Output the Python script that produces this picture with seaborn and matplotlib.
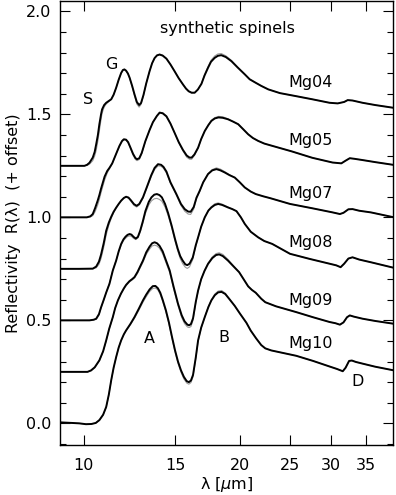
import numpy as np
import pandas as pd
import matplotlib
matplotlib.use("Agg")
import matplotlib.pyplot as plt
import seaborn as sns

# wavelength [micron], measured reflectivity (black) and model fit (grey), offsets already added
wl_mg04 = [8.98, 10.03, 10.15, 10.26, 10.41, 10.5, 10.57, 10.65, 10.72, 10.8, 10.85, 10.95,
           11.05, 11.18, 11.30, 11.42, 11.55, 11.68, 11.81, 11.9, 11.98, 12.07, 12.17, 12.26,
           12.4, 12.53, 12.66, 12.79, 12.9, 13.04, 13.2, 13.40, 13.55, 13.70, 13.85, 14.01,
           14.2, 14.44, 14.7, 14.98, 15.25, 15.54, 15.75, 15.94, 16.15, 16.37, 16.6, 16.87,
           17.1, 17.37, 17.6, 17.89, 18.15, 18.42, 18.8, 19.27, 19.8, 20.45, 20.9, 21.47,
           22.0, 22.7, 23.9, 25.7, 27.6, 29.8, 30.9, 31.8, 32.3, 33.0, 34.5, 36.5, 39.5]
r_mg04 = [1.250, 1.250, 1.255, 1.265, 1.290, 1.318, 1.355, 1.400, 1.452, 1.500, 1.524, 1.545,
          1.556, 1.565, 1.573, 1.595, 1.629, 1.668, 1.701, 1.715, 1.718, 1.712, 1.698, 1.678,
          1.638, 1.597, 1.560, 1.545, 1.555, 1.594, 1.650, 1.710, 1.748, 1.773, 1.786, 1.790,
          1.785, 1.770, 1.742, 1.708, 1.675, 1.645, 1.625, 1.612, 1.605, 1.605, 1.620, 1.648,
          1.688, 1.726, 1.755, 1.774, 1.784, 1.787, 1.778, 1.758, 1.728, 1.694, 1.670, 1.653,
          1.638, 1.621, 1.603, 1.588, 1.573, 1.556, 1.553, 1.560, 1.569, 1.567, 1.556, 1.545,
          1.532]
fit_mg04 = [1.250, 1.250, 1.252, 1.258, 1.275, 1.298, 1.325, 1.372, 1.420, 1.475, 1.505, 1.535,
            1.550, 1.562, 1.573, 1.595, 1.629, 1.668, 1.700, 1.713, 1.716, 1.710, 1.696, 1.676,
            1.634, 1.590, 1.550, 1.535, 1.548, 1.590, 1.650, 1.710, 1.748, 1.774, 1.788, 1.792,
            1.787, 1.771, 1.742, 1.708, 1.675, 1.645, 1.623, 1.610, 1.603, 1.604, 1.620, 1.650,
            1.692, 1.732, 1.762, 1.783, 1.793, 1.795, 1.784, 1.762, 1.730, 1.694, 1.670, 1.653,
            1.638, 1.621, 1.603, 1.588, 1.573, 1.556, 1.553, 1.560, 1.569, 1.567, 1.556, 1.545,
            1.532]

wl_mg05 = [8.98, 9.8, 10.14, 10.3, 10.41, 10.52, 10.64, 10.72, 10.80, 10.97, 11.1, 11.21,
           11.35, 11.47, 11.6, 11.72, 11.85, 11.95, 12.07, 12.18, 12.30, 12.45, 12.58, 12.67,
           12.8, 12.94, 13.15, 13.40, 13.6, 13.84, 14.01, 14.2, 14.44, 14.7, 14.98, 15.25,
           15.54, 15.8, 16.0, 16.15, 16.35, 16.62, 16.85, 17.12, 17.4, 17.63, 17.9, 18.2,
           18.55, 18.98, 19.4, 19.86, 20.3, 20.76, 21.2, 21.7, 22.3, 23.1, 25.2, 27.6, 30.2,
           31.4, 32.0, 32.6, 33.3, 34.5, 36.5, 39.5]
r_mg05 = [1.000, 1.000, 1.000, 1.005, 1.016, 1.045, 1.081, 1.108, 1.139, 1.197, 1.225, 1.240,
          1.262, 1.290, 1.320, 1.347, 1.370, 1.379, 1.377, 1.365, 1.340, 1.308, 1.288, 1.282,
          1.287, 1.313, 1.370, 1.424, 1.462, 1.492, 1.508, 1.505, 1.490, 1.455, 1.409, 1.365,
          1.327, 1.300, 1.290, 1.290, 1.305, 1.338, 1.380, 1.419, 1.448, 1.468, 1.480, 1.485,
          1.483, 1.476, 1.465, 1.452, 1.428, 1.403, 1.385, 1.371, 1.358, 1.347, 1.320, 1.289,
          1.266, 1.262, 1.275, 1.287, 1.284, 1.278, 1.268, 1.255]
fit_mg05 = [1.000, 1.000, 1.000, 1.002, 1.008, 1.028, 1.060, 1.088, 1.120, 1.180, 1.215, 1.235,
            1.260, 1.290, 1.320, 1.345, 1.367, 1.376, 1.374, 1.362, 1.336, 1.302, 1.281, 1.275,
            1.281, 1.308, 1.368, 1.424, 1.463, 1.494, 1.510, 1.508, 1.493, 1.456, 1.409, 1.362,
            1.322, 1.292, 1.282, 1.282, 1.300, 1.335, 1.380, 1.420, 1.450, 1.471, 1.484, 1.490,
            1.488, 1.478, 1.465, 1.452, 1.428, 1.403, 1.385, 1.371, 1.358, 1.347, 1.320, 1.289,
            1.266, 1.262, 1.275, 1.287, 1.284, 1.278, 1.268, 1.255]

wl_mg07 = [8.98, 9.8, 10.41, 10.57, 10.7, 10.80, 10.93, 11.05, 11.18, 11.30, 11.42, 11.55,
           11.68, 11.81, 11.95, 12.07, 12.2, 12.33, 12.5, 12.65, 12.8, 13.01, 13.25, 13.5,
           13.7, 13.91, 14.1, 14.25, 14.44, 14.7, 15.09, 15.4, 15.66, 15.9, 16.08, 16.3, 16.5,
           16.74, 17.0, 17.37, 17.7, 18.03, 18.35, 18.7, 19.1, 19.56, 20.0, 20.45, 21.0,
           21.47, 22.2, 22.9, 25.0, 27.6, 30.2, 31.2, 31.7, 32.4, 33.0, 34.0, 35.8, 39.5]
r_mg07 = [0.750, 0.750, 0.751, 0.761, 0.785, 0.819, 0.875, 0.935, 0.975, 1.003, 1.027, 1.047,
          1.065, 1.081, 1.094, 1.100, 1.096, 1.083, 1.064, 1.056, 1.065, 1.097, 1.150, 1.205,
          1.240, 1.258, 1.255, 1.245, 1.222, 1.170, 1.113, 1.065, 1.040, 1.028, 1.027, 1.050,
          1.095, 1.129, 1.170, 1.210, 1.228, 1.234, 1.228, 1.218, 1.205, 1.193, 1.170, 1.145,
          1.125, 1.113, 1.102, 1.093, 1.065, 1.044, 1.024, 1.016, 1.022, 1.039, 1.040, 1.032,
          1.024, 1.001]
fit_mg07 = [0.750, 0.750, 0.750, 0.755, 0.772, 0.800, 0.855, 0.915, 0.962, 0.995, 1.022, 1.045,
            1.064, 1.081, 1.093, 1.098, 1.093, 1.078, 1.058, 1.050, 1.060, 1.092, 1.145, 1.198,
            1.232, 1.250, 1.248, 1.238, 1.215, 1.165, 1.108, 1.058, 1.030, 1.016, 1.014, 1.040,
            1.090, 1.125, 1.170, 1.212, 1.232, 1.240, 1.234, 1.222, 1.207, 1.193, 1.170, 1.145,
            1.125, 1.113, 1.102, 1.093, 1.065, 1.044, 1.024, 1.016, 1.022, 1.039, 1.040, 1.032,
            1.024, 1.001]

wl_mg08 = [8.98, 9.8, 10.26, 10.45, 10.57, 10.7, 10.8, 10.93, 11.05, 11.21, 11.38, 11.55,
           11.68, 11.81, 11.93, 12.04, 12.15, 12.26, 12.36, 12.48, 12.6, 12.72, 12.85, 13.0,
           13.15, 13.35, 13.51, 13.68, 13.84, 14.0, 14.15, 14.35, 14.55, 14.78, 15.0, 15.18,
           15.35, 15.52, 15.7, 15.84, 16.0, 16.23, 16.45, 16.62, 16.85, 17.12, 17.4, 17.63,
           17.9, 18.17, 18.5, 18.98, 19.35, 19.71, 20.1, 20.45, 21.0, 21.7, 22.3, 23.1, 25.0,
           27.3, 29.9, 30.7, 31.3, 31.8, 32.4, 33.0, 34.0, 35.8, 39.5]
r_mg08 = [0.500, 0.500, 0.500, 0.503, 0.508, 0.530, 0.563, 0.600, 0.635, 0.677, 0.742, 0.790,
          0.835, 0.871, 0.893, 0.906, 0.915, 0.919, 0.916, 0.905, 0.897, 0.905, 0.935, 0.980,
          1.030, 1.075, 1.097, 1.110, 1.113, 1.108, 1.097, 1.065, 1.020, 0.959, 0.895, 0.848,
          0.812, 0.790, 0.772, 0.768, 0.775, 0.805, 0.865, 0.903, 0.955, 1.000, 1.033, 1.048,
          1.060, 1.065, 1.060, 1.048, 1.040, 1.030, 1.000, 0.968, 0.930, 0.903, 0.885, 0.871,
          0.823, 0.798, 0.774, 0.767, 0.758, 0.775, 0.800, 0.806, 0.795, 0.782, 0.756]
fit_mg08 = [0.500, 0.500, 0.500, 0.502, 0.505, 0.525, 0.560, 0.598, 0.635, 0.680, 0.745, 0.792,
            0.832, 0.865, 0.887, 0.898, 0.907, 0.910, 0.908, 0.898, 0.892, 0.900, 0.928, 0.970,
            1.018, 1.060, 1.080, 1.090, 1.092, 1.087, 1.078, 1.050, 1.008, 0.950, 0.885, 0.838,
            0.800, 0.775, 0.758, 0.752, 0.760, 0.795, 0.860, 0.900, 0.955, 1.000, 1.035, 1.052,
            1.066, 1.070, 1.064, 1.050, 1.040, 1.030, 1.000, 0.968, 0.930, 0.903, 0.885, 0.871,
            0.823, 0.798, 0.774, 0.767, 0.758, 0.775, 0.800, 0.806, 0.795, 0.782, 0.756]

wl_mg09 = [8.98, 9.8, 10.17, 10.33, 10.5, 10.72, 10.9, 11.05, 11.2, 11.38, 11.5, 11.64, 11.8,
           11.95, 12.07, 12.25, 12.4, 12.53, 12.7, 12.85, 13.01, 13.2, 13.40, 13.55, 13.70,
           13.85, 14.0, 14.2, 14.4, 14.65, 14.9, 15.2, 15.45, 15.65, 15.85, 15.97, 16.1, 16.25,
           16.45, 16.62, 16.85, 17.1, 17.37, 17.7, 18.0, 18.25, 18.55, 18.98, 19.45, 19.94,
           20.4, 20.76, 21.1, 21.47, 22.0, 22.4, 23.5, 25.7, 27.7, 29.8, 30.6, 31.2, 31.7,
           32.2, 32.6, 33.2, 34.5, 36.5, 39.5]
r_mg09 = [0.250, 0.250, 0.250, 0.257, 0.272, 0.306, 0.350, 0.403, 0.460, 0.516, 0.560, 0.597,
          0.630, 0.655, 0.672, 0.690, 0.700, 0.710, 0.735, 0.762, 0.790, 0.830, 0.858, 0.874,
          0.879, 0.874, 0.862, 0.835, 0.793, 0.742, 0.665, 0.581, 0.525, 0.495, 0.479, 0.476,
          0.482, 0.510, 0.590, 0.645, 0.700, 0.740, 0.774, 0.802, 0.817, 0.820, 0.812, 0.790,
          0.762, 0.734, 0.695, 0.665, 0.648, 0.634, 0.605, 0.588, 0.568, 0.540, 0.515, 0.492,
          0.486, 0.479, 0.490, 0.515, 0.524, 0.518, 0.508, 0.497, 0.484]
fit_mg09 = [0.250, 0.250, 0.250, 0.255, 0.270, 0.303, 0.348, 0.400, 0.458, 0.515, 0.560, 0.597,
            0.628, 0.652, 0.668, 0.686, 0.696, 0.705, 0.728, 0.755, 0.782, 0.820, 0.846, 0.861,
            0.865, 0.861, 0.850, 0.823, 0.782, 0.732, 0.655, 0.572, 0.514, 0.484, 0.468, 0.465,
            0.470, 0.500, 0.585, 0.640, 0.700, 0.742, 0.778, 0.808, 0.824, 0.828, 0.820, 0.796,
            0.765, 0.734, 0.695, 0.665, 0.648, 0.634, 0.605, 0.588, 0.568, 0.540, 0.515, 0.492,
            0.486, 0.479, 0.490, 0.515, 0.524, 0.518, 0.508, 0.497, 0.484]

wl_mg10 = [8.98, 9.5, 9.81, 10.1, 10.35, 10.55, 10.72, 10.9, 11.05, 11.18, 11.30, 11.42,
           11.55, 11.68, 11.81, 11.95, 12.07, 12.3, 12.53, 12.77, 13.01, 13.2, 13.40, 13.59,
           13.75, 13.9, 14.05, 14.2, 14.4, 14.6, 14.8, 15.0, 15.2, 15.4, 15.6, 15.8, 15.95,
           16.1, 16.25, 16.45, 16.62, 16.85, 17.12, 17.4, 17.63, 17.9, 18.17, 18.45, 18.75,
           19.1, 19.56, 20.0, 20.6, 21.0, 21.5, 22.0, 22.4, 23.0, 23.9, 25.7, 27.7, 29.8,
           30.8, 31.6, 32.0, 32.5, 32.9, 33.5, 34.5, 36.5, 39.5]
r_mg10 = [0.005, 0.002, 0.000, -0.004, -0.003, 0.002, 0.016, 0.042, 0.080, 0.140, 0.210, 0.270,
          0.322, 0.368, 0.403, 0.432, 0.451, 0.482, 0.516, 0.556, 0.597, 0.625, 0.650, 0.666,
          0.667, 0.656, 0.634, 0.600, 0.550, 0.490, 0.420, 0.355, 0.300, 0.258, 0.226, 0.205,
          0.200, 0.208, 0.235, 0.320, 0.403, 0.465, 0.516, 0.565, 0.597, 0.622, 0.636, 0.638,
          0.628, 0.603, 0.570, 0.534, 0.488, 0.450, 0.413, 0.380, 0.364, 0.354, 0.345, 0.328,
          0.303, 0.276, 0.264, 0.253, 0.270, 0.303, 0.305, 0.298, 0.290, 0.275, 0.258]
fit_mg10 = [0.005, 0.002, 0.000, -0.004, -0.003, 0.002, 0.014, 0.040, 0.078, 0.138, 0.208, 0.268,
            0.322, 0.368, 0.403, 0.431, 0.450, 0.478, 0.510, 0.548, 0.588, 0.615, 0.640, 0.655,
            0.657, 0.648, 0.625, 0.592, 0.542, 0.482, 0.412, 0.347, 0.292, 0.249, 0.216, 0.196,
            0.190, 0.198, 0.226, 0.315, 0.398, 0.463, 0.516, 0.568, 0.600, 0.628, 0.642, 0.645,
            0.632, 0.605, 0.570, 0.534, 0.488, 0.450, 0.413, 0.380, 0.364, 0.354, 0.345, 0.328,
            0.303, 0.276, 0.264, 0.253, 0.270, 0.303, 0.305, 0.298, 0.290, 0.275, 0.258]

names = ["Mg04", "Mg05", "Mg07", "Mg08", "Mg09", "Mg10"]
label_y = [1.653, 1.371, 1.116, 0.879, 0.597, 0.387]

spectra = [(wl_mg04, r_mg04, fit_mg04), (wl_mg05, r_mg05, fit_mg05),
           (wl_mg07, r_mg07, fit_mg07), (wl_mg08, r_mg08, fit_mg08),
           (wl_mg09, r_mg09, fit_mg09), (wl_mg10, r_mg10, fit_mg10)]

sns.set_theme(style="ticks")
plt.rcParams["font.family"] = ["DejaVu Sans"]
plt.rcParams["axes.edgecolor"] = "black"
plt.rcParams["axes.labelcolor"] = "black"
plt.rcParams["text.color"] = "black"
plt.rcParams["xtick.color"] = "black"
plt.rcParams["ytick.color"] = "black"

fig = plt.figure(figsize=(3.96, 4.95), dpi=100)
ax = fig.add_axes([60 / 396, 1 - 445 / 495, 333 / 396, 444 / 495])

for wl, r, fit in spectra:
    sns.lineplot(x=wl, y=fit, ax=ax, color="#999999", lw=0.8, estimator=None, sort=False)
    sns.lineplot(x=wl, y=r, ax=ax, color="black", lw=1.4, estimator=None, sort=False)

fs = 11.5
for name, yy in zip(names, label_y):
    ax.text(27.4, yy, name, ha="center", va="center", fontsize=fs)

ax.text(18.96, 1.918, "synthetic spinels", ha="center", va="center", fontsize=fs)
ax.text(10.18, 1.573, "S", ha="center", va="center", fontsize=fs)
ax.text(11.30, 1.742, "G", ha="center", va="center", fontsize=fs)
ax.text(13.40, 0.414, "A", ha="center", va="center", fontsize=fs)
ax.text(18.66, 0.419, "B", ha="center", va="center", fontsize=fs)
ax.text(33.8, 0.201, "D", ha="center", va="center", fontsize=fs)

ax.set_xscale("log")
ax.set_xlim(9.0, 39.5)
ax.set_ylim(-0.105, 2.05)
ax.set_xticks([10, 15, 20, 25, 30, 35])
ax.set_xticklabels(["10", "15", "20", "25", "30", "35"])
ax.xaxis.set_minor_locator(matplotlib.ticker.NullLocator())
ax.set_yticks([0.0, 0.5, 1.0, 1.5, 2.0])
ax.set_yticklabels(["0.0", "0.5", "1.0", "1.5", "2.0"])
ax.yaxis.set_minor_locator(matplotlib.ticker.MultipleLocator(0.1))
ax.tick_params(which="both", direction="in", top=True, right=True, labelsize=fs, width=0.8)
ax.tick_params(axis="x", which="major", length=7, pad=9)
ax.tick_params(axis="y", which="major", length=7, pad=6)
ax.tick_params(axis="y", which="minor", length=4)
for s in ax.spines.values():
    s.set_linewidth(1.0)
    s.set_visible(True)

ax.set_xlabel(r"λ [$\mu$m]", fontsize=fs, labelpad=2)
ax.set_ylabel("Reflectivity  R(λ)  (+ offset)", fontsize=fs, labelpad=4)

fig.savefig("out.png", dpi=100)
